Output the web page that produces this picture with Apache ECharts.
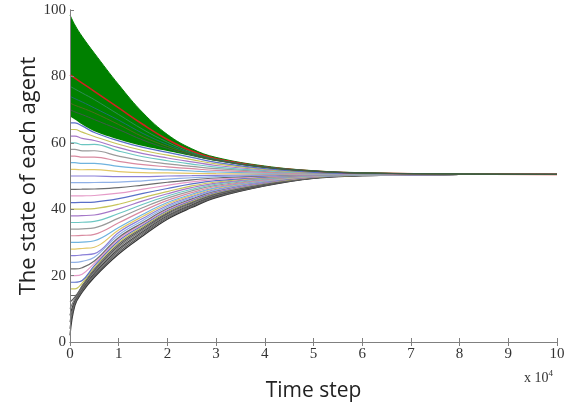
<!DOCTYPE html>
<html>
<head>
<meta charset="utf-8">
<script src="https://cdn.jsdelivr.net/npm/echarts@6/dist/echarts.min.js"></script>
<style>
  html, body { margin: 0; padding: 0; background: #fff; }
  #chart { width: 572px; height: 410px; }
</style>
</head>
<body>
<div id="chart"></div>
<script>
// time steps (raw), axis shows them in units of 10^4
const timeSteps = [0, 1000, 2500, 5000, 10000, 15000, 20000, 25000, 30000, 40000, 50000, 60000, 80000, 100000];

// edges of the green band of agents (top group)
const greenTop = [98.5, 95.5, 92, 87, 77.5, 69, 62.5, 58.2, 55.6, 53, 51.6, 51, 50.6, 50.5];
const greenBottom = [68, 67, 65.5, 63.5, 61, 59, 57.5, 56, 54.5, 52.5, 51.4, 50.9, 50.6, 50.5];

// a few visible agents inside the green band (red one first)
const upperAgents = [
  [80.5, 79.5, 78, 75.5, 70.5, 65.5, 61, 57.5, 55.2, 52.8, 51.5, 50.9, 50.6, 50.5],
  [77, 76.2, 75, 73, 68.5, 64, 60.2, 57.1, 55, 52.7, 51.5, 50.9, 50.6, 50.5],
  [74, 73.3, 72.3, 70.5, 66.8, 62.8, 59.5, 56.8, 54.9, 52.7, 51.5, 50.9, 50.6, 50.5],
  [72, 71.3, 70.5, 69, 65.5, 61.8, 58.9, 56.6, 54.8, 52.6, 51.45, 50.9, 50.6, 50.5],
  [70, 69.3, 68.5, 67, 64, 60.8, 58.3, 56.3, 54.7, 52.6, 51.45, 50.9, 50.6, 50.5],
];

// agents of the lower group, from the bottom up
const lowerAgents = [
  [2, 11, 15, 19.5, 26.5, 32, 37, 40.5, 43.5, 47, 49.3, 50.1, 50.45, 50.5],
  [4, 11.5, 15.33, 19.92, 27, 32.42, 37.33, 40.78, 43.72, 47.12, 49.35, 50.12, 50.45, 50.5],
  [6, 12, 15.67, 20.33, 27.5, 32.83, 37.67, 41.07, 43.93, 47.23, 49.4, 50.14, 50.45, 50.5],
  [8, 12.5, 16, 20.75, 28, 33.25, 38, 41.35, 44.15, 47.35, 49.45, 50.16, 50.45, 50.5],
  [10, 13, 16.33, 21.17, 28.5, 33.67, 38.33, 41.63, 44.37, 47.47, 49.5, 50.18, 50.45, 50.5],
  [12, 13.5, 16.67, 21.58, 29, 34.08, 38.67, 41.92, 44.58, 47.58, 49.55, 50.2, 50.45, 50.5],
  [14, 14, 17, 22, 29.5, 34.5, 39, 42.2, 44.8, 47.7, 49.6, 50.22, 50.45, 50.5],
  [16, 16, 17.75, 22.5, 30, 34.88, 39.3, 42.43, 44.98, 47.83, 49.65, 50.24, 50.45, 50.5],
  [18, 18, 18.5, 23, 30.5, 35.25, 39.6, 42.65, 45.15, 47.95, 49.7, 50.26, 50.45, 50.5],
  [20, 20, 20.43, 23.7, 31, 35.63, 39.9, 42.88, 45.33, 48.08, 49.75, 50.28, 50.45, 50.5],
  [22, 22, 22.37, 24.4, 31.5, 36, 40.2, 43.1, 45.5, 48.2, 49.8, 50.3, 50.45, 50.5],
  [24, 24, 24.3, 25.5, 32.25, 36.63, 40.65, 43.45, 45.75, 48.33, 49.85, 50.32, 50.5, 50.5],
  [26, 26, 26.23, 26.6, 33, 37.25, 41.1, 43.8, 46, 48.45, 49.9, 50.34, 50.5, 50.5],
  [28, 28, 28.17, 28.55, 33.75, 37.88, 41.55, 44.15, 46.25, 48.58, 49.95, 50.36, 50.5, 50.5],
  [30, 30, 30.1, 30.5, 34.5, 38.5, 42, 44.5, 46.5, 48.7, 50, 50.38, 50.5, 50.5],
  [32, 32, 32.09, 32.44, 35.9, 39.5, 42.66, 45, 46.84, 48.86, 50.06, 50.4, 50.5, 50.5],
  [34, 34, 34.08, 34.38, 37.3, 40.5, 43.32, 45.5, 47.18, 49.02, 50.12, 50.42, 50.5, 50.5],
  [36, 36, 36.07, 36.32, 38.7, 41.5, 43.98, 46, 47.52, 49.18, 50.18, 50.44, 50.5, 50.5],
  [38, 38, 38.06, 38.26, 40.1, 42.5, 44.64, 46.5, 47.86, 49.34, 50.24, 50.46, 50.5, 50.5],
  [40, 40, 40.05, 40.2, 41.5, 43.5, 45.3, 47, 48.2, 49.5, 50.3, 50.48, 50.5, 50.5],
  [42, 42, 42.04, 42.16, 43.16, 44.76, 46.24, 47.62, 48.6, 49.68, 50.36, 50.5, 50.5, 50.5],
  [44, 44, 44.03, 44.12, 44.82, 46.02, 47.18, 48.24, 49, 49.86, 50.42, 50.52, 50.5, 50.5],
  [46, 46, 46.02, 46.08, 46.48, 47.28, 48.12, 48.86, 49.4, 50.04, 50.48, 50.54, 50.55, 50.5],
  [48, 48, 48.01, 48.04, 48.14, 48.54, 49.06, 49.48, 49.8, 50.22, 50.54, 50.56, 50.55, 50.5],
  [50, 50, 50, 50, 49.8, 49.8, 50, 50.1, 50.2, 50.4, 50.6, 50.58, 50.55, 50.5],
  [52, 52, 51.89, 51.9, 51.34, 51, 50.92, 50.8, 50.7, 50.64, 50.66, 50.6, 50.55, 50.5],
  [54, 54, 53.78, 53.8, 52.88, 52.2, 51.84, 51.5, 51.2, 50.88, 50.72, 50.62, 50.55, 50.5],
  [56, 56, 55.66, 55.7, 54.42, 53.4, 52.76, 52.2, 51.7, 51.12, 50.78, 50.64, 50.55, 50.5],
  [58, 58, 57.55, 57.6, 55.96, 54.6, 53.68, 52.9, 52.2, 51.36, 50.84, 50.66, 50.55, 50.5],
  [60, 60, 59.44, 59.5, 57.5, 55.8, 54.6, 53.6, 52.7, 51.6, 50.9, 50.68, 50.55, 50.5],
  [62, 62, 61.33, 60.7, 58.53, 56.73, 55.43, 54.27, 53.17, 51.8, 50.97, 50.7, 50.55, 50.5],
  [64, 64, 63.21, 61.9, 59.57, 57.67, 56.27, 54.93, 53.63, 52, 51.03, 50.72, 50.55, 50.5],
  [66, 66, 65.1, 63.1, 60.6, 58.6, 57.1, 55.6, 54.1, 52.2, 51.1, 50.74, 50.55, 50.5],
];

const upperColors = ['#d22020', '#2e8b57', '#1f6f6f', '#4f6b1f', '#3f5a4a'];
const lowerColors = ['#8a7fd8', '#e2c766', '#6fb3df', '#d98aa0', '#9a9a9a', '#6cc6c2',
  '#a678c8', '#c7c45a', '#5a6fc8', '#e59bc8', '#6c6c6c', '#8fb0e6'];
const bottomColors = ['#333333', '#555555', '#6a6a6a', '#444444', '#7a7a7a', '#585858', '#666666'];

function pairs(values) {
  return timeSteps.map((t, i) => [t, values[i]]);
}

const series = [];
series.push({
  type: 'line', data: pairs(greenTop), smooth: 0.4, symbol: 'none', silent: true,
  lineStyle: { color: '#008000', width: 1 },
  areaStyle: { color: '#008000', opacity: 1 },
  z: 2,
});
series.push({
  type: 'line', data: pairs(greenBottom), smooth: 0.4, symbol: 'none', silent: true,
  lineStyle: { width: 0, color: '#ffffff' },
  areaStyle: { color: '#ffffff', opacity: 1 },
  z: 3,
});
lowerAgents.forEach((a, i) => {
  series.push({
    type: 'line', data: pairs(a), smooth: 0.4, symbol: 'none', silent: true,
    lineStyle: { color: i < bottomColors.length ? bottomColors[i] : lowerColors[i % lowerColors.length], width: 1.2 },
    z: 4,
  });
});
upperAgents.forEach((a, i) => {
  series.push({
    type: 'line', data: pairs(a), smooth: 0.4, symbol: 'none', silent: true,
    lineStyle: { color: upperColors[i], width: i === 0 ? 1.6 : 1 },
    z: 4,
  });
});

const axisColor = '#808080';
const labelFont = { fontFamily: 'Liberation Serif', fontSize: 15, color: '#333' };
const nameFont = { fontFamily: 'Open Sans', color: '#222' };

const option = {
  animation: false,
  backgroundColor: '#ffffff',
  grid: { left: 70, right: 15, top: 10, bottom: 68 },
  xAxis: [
    {
      type: 'value', min: 0, max: 100000, interval: 10000, z: 10,
      axisLine: { lineStyle: { color: axisColor, width: 1 } },
      axisTick: { inside: true, length: 4, lineStyle: { color: axisColor } },
      axisLabel: Object.assign({ margin: 5, formatter: v => String(v / 10000) }, labelFont),
      splitLine: { show: false },
      name: 'Time step', nameLocation: 'middle', nameGap: 39, nameMoveOverlap: false,
      nameTextStyle: Object.assign({ fontSize: 21 }, nameFont),
    },
    {
      type: 'value', position: 'top', min: 0, max: 100000, interval: 10000, z: 10,
      axisLine: { lineStyle: { color: axisColor, width: 1 } },
      axisTick: { inside: true, length: 4, lineStyle: { color: axisColor } },
      axisLabel: { show: false },
      splitLine: { show: false },
    },
  ],
  yAxis: [
    {
      type: 'value', min: 0, max: 100, interval: 20, z: 10,
      axisLine: { show: true, lineStyle: { color: axisColor, width: 1 } },
      axisTick: { show: true, inside: true, length: 4, lineStyle: { color: axisColor } },
      axisLabel: Object.assign({ margin: 4 }, labelFont),
      splitLine: { show: false },
      name: 'The state of each agent', nameLocation: 'middle', nameGap: 30, nameMoveOverlap: false,
      nameTextStyle: Object.assign({ fontSize: 22 }, nameFont),
    },
    {
      type: 'value', position: 'right', min: 0, max: 100, interval: 20, z: 10,
      axisLine: { show: true, lineStyle: { color: axisColor, width: 1 } },
      axisTick: { show: false },
      axisLabel: { show: false },
      splitLine: { show: false },
    },
  ],
  graphic: [
    {
      type: 'text', left: 524, top: 369,
      style: {
        text: '{b|x 10}{s|4}',
        rich: {
          b: { fontFamily: 'Liberation Serif', fontSize: 14, fill: '#333', verticalAlign: 'bottom' },
          s: { fontFamily: 'Liberation Serif', fontSize: 9, fill: '#333', verticalAlign: 'top', padding: [0, 0, 7, 0] },
        },
      },
    },
  ],
  series: series,
};

const chart = echarts.init(document.getElementById('chart'), null, { renderer: 'canvas' });
chart.setOption(option);
</script>
</body>
</html>
